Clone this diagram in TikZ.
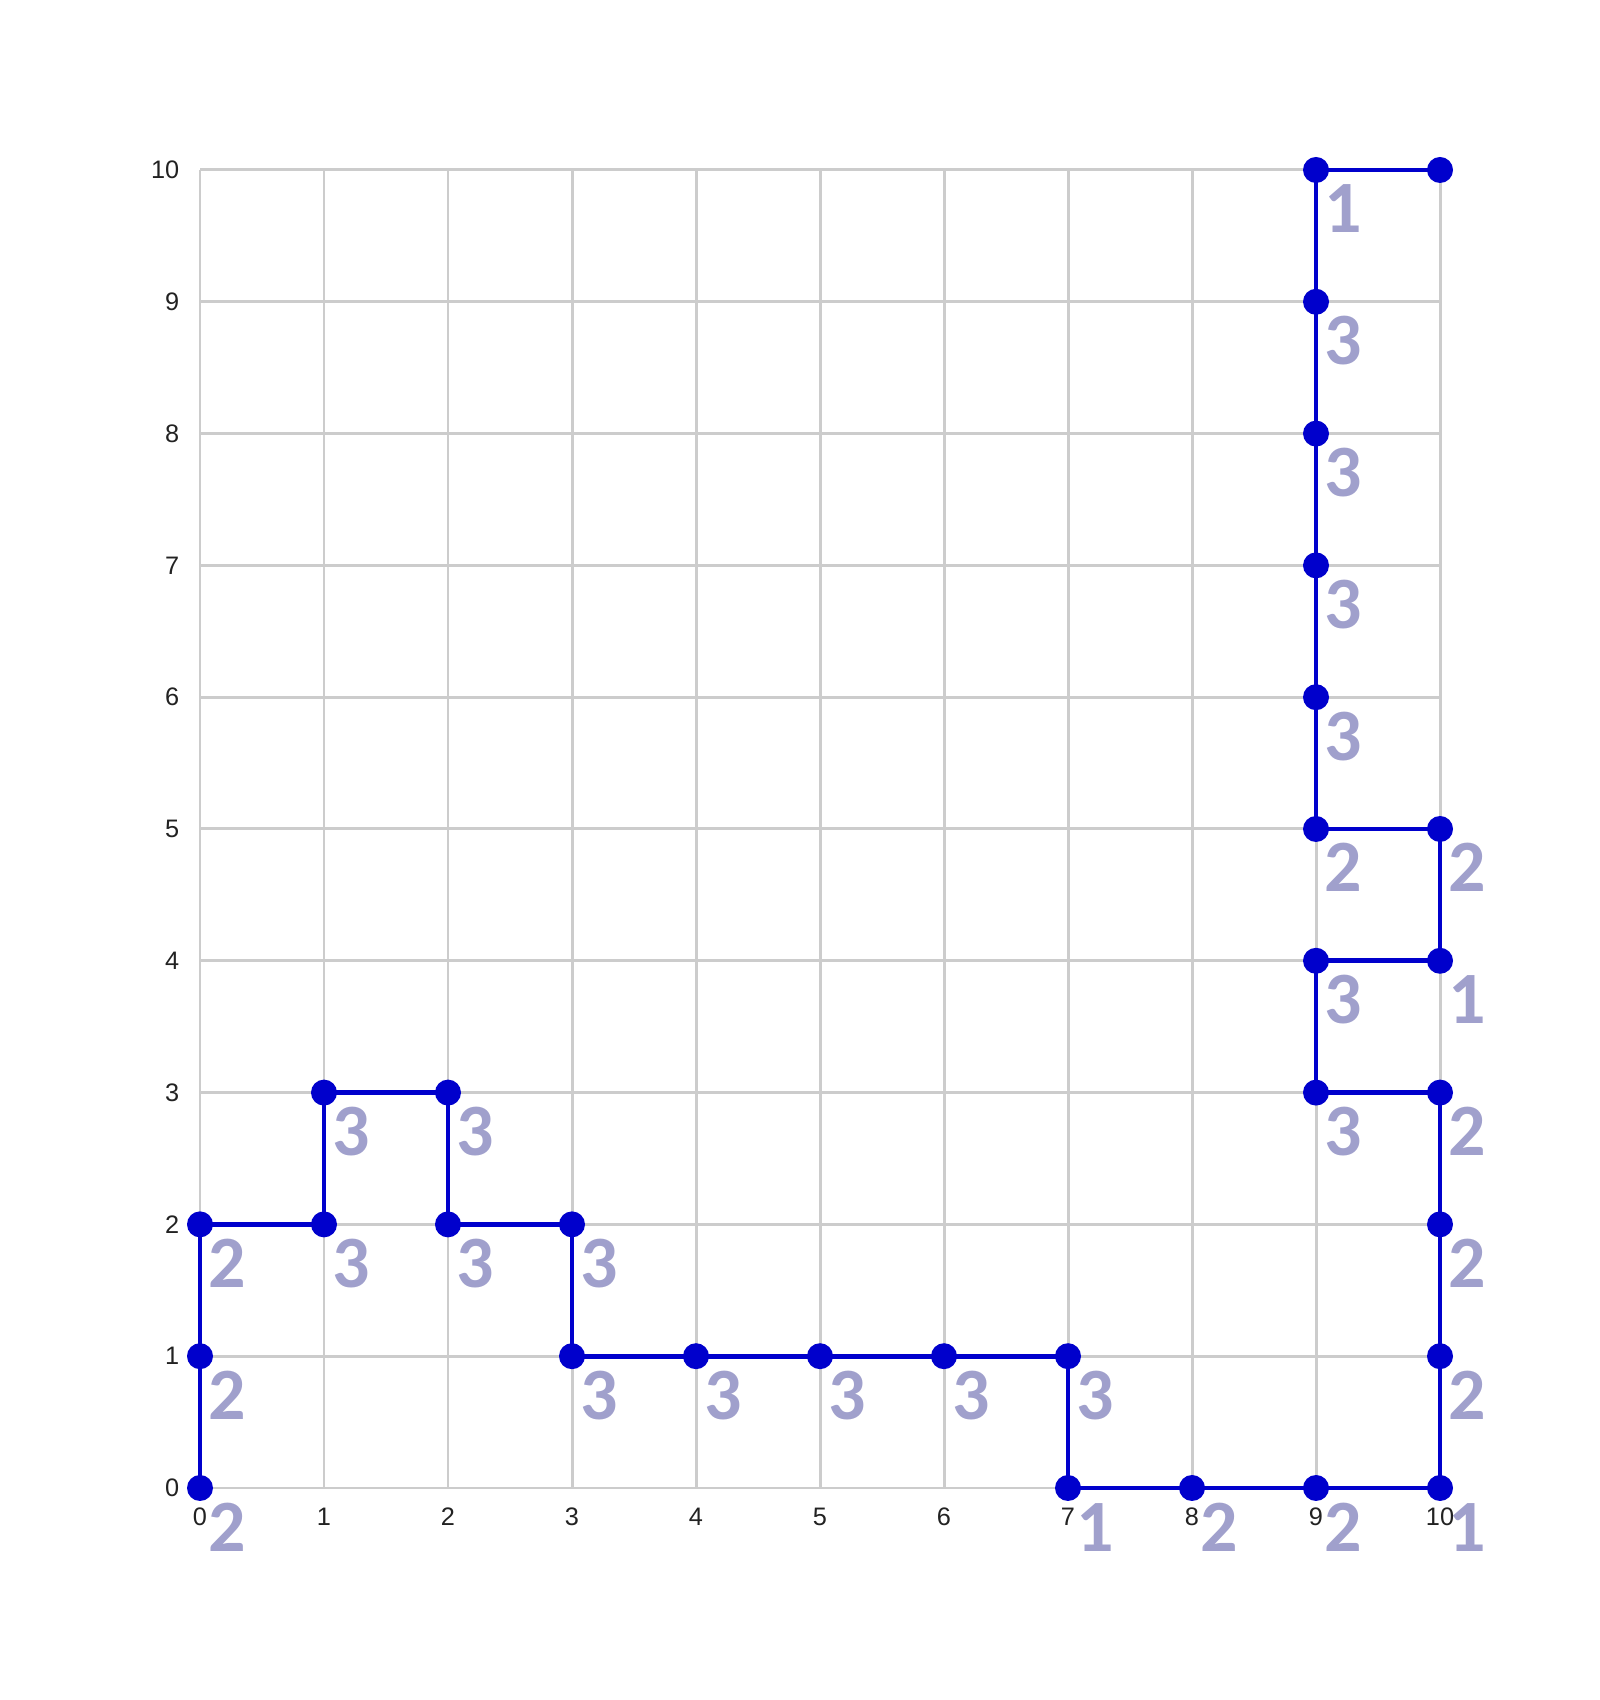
\documentclass[tikz,border=0pt]{standalone}
\usepackage{fontspec}
\setmainfont{Liberation Sans}
\newfontfamily\labfont{Carlito}
\usepackage{xcolor}
\usepackage{tikz}
\usetikzlibrary{positioning}

\definecolor{routeblue}{HTML}{0000CC}
\definecolor{labgray}{HTML}{A0A0CC}
\definecolor{gridgray}{HTML}{CCCCCC}
\definecolor{tickgray}{HTML}{222222}

\begin{document}
\begin{tikzpicture}[x=1.24cm, y=1.318cm,
        gridline/.style={draw=gridgray, line width=0.85pt},
        route/.style={draw=routeblue, line width=1.35pt},
        dot/.style={circle, fill=routeblue, inner sep=0pt, minimum size=0.26cm},
        lab/.style={anchor=base west, inner sep=0pt, text=labgray, font=\labfont\bfseries\fontsize{21}{23}\selectfont, xshift=0.08cm, yshift=-0.63cm},
        tick/.style={inner sep=0pt, text=tickgray, font=\fontsize{7.2}{8}\selectfont}]
        \useasboundingbox (-2cm,-2.12cm) rectangle (14cm,14.88cm);

        % grid and axis numbers
        \foreach \k in {0,...,10} {
            \draw[gridline] (\k,0) -- (\k,10);
            \draw[gridline] (0,\k) -- (10,\k);
            \node[tick, yshift=-0.29cm] (xt\k) at (\k,0) {\k};
            \node[tick, anchor=east, xshift=-0.2cm] (yt\k) at (0,\k) {\k};
        }

        % points of the route with their counts
        \foreach \x/\y/\n [count=\i] in {0/0/2, 0/1/2, 0/2/2, 1/2/3, 1/3/3, 2/3/3, 2/2/3, 3/2/3, 3/1/3, 4/1/3,
                5/1/3, 6/1/3, 7/1/3, 7/0/1, 8/0/2, 9/0/2, 10/0/1, 10/1/2, 10/2/2, 10/3/2,
                9/3/3, 9/4/3, 10/4/1, 10/5/2, 9/5/2, 9/6/3, 9/7/3, 9/8/3, 9/9/3, 9/10/1, 10/10/} {
            \coordinate (p\i) at (\x,\y);
        }

        \draw[route] (p1) \foreach \i in {2,...,31} { -- (p\i) };

        \foreach \x/\y/\n [count=\i] in {0/0/2, 0/1/2, 0/2/2, 1/2/3, 1/3/3, 2/3/3, 2/2/3, 3/2/3, 3/1/3, 4/1/3,
                5/1/3, 6/1/3, 7/1/3, 7/0/1, 8/0/2, 9/0/2, 10/0/1, 10/1/2, 10/2/2, 10/3/2,
                9/3/3, 9/4/3, 10/4/1, 10/5/2, 9/5/2, 9/6/3, 9/7/3, 9/8/3, 9/9/3, 9/10/1, 10/10/} {
            \node[dot] (d\i) at (p\i) {};
            \node[lab] (l\i) at (p\i) {\n};
        }
    \end{tikzpicture}
\end{document}
